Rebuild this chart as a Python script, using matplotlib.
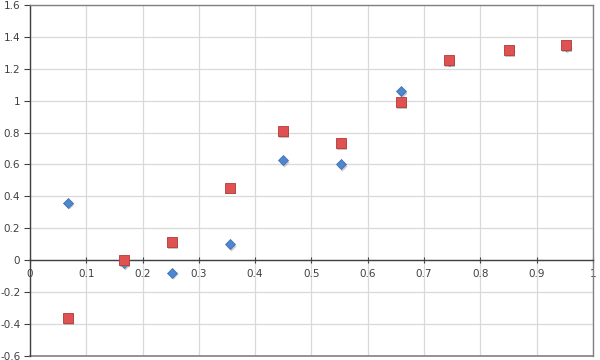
import numpy as np
import matplotlib.pyplot as plt

# values
x_vals = [0.067, 0.167, 0.252, 0.355, 0.449, 0.552, 0.659, 0.744, 0.851, 0.952]
blue_y = [0.36, -0.02, -0.08, 0.10, 0.625, 0.60, 1.06, 1.25, 1.32, 1.34]
red_y = [-0.365, 0.0, 0.115, 0.455, 0.81, 0.735, 0.99, 1.255, 1.32, 1.35]

x_ticks = [0, 0.1, 0.2, 0.3, 0.4, 0.5, 0.6, 0.7, 0.8, 0.9, 1]
x_labels = ["0", "0.1", "0.2", "0.3", "0.4", "0.5", "0.6", "0.7", "0.8", "0.9", "1"]
y_ticks = [-0.6, -0.4, -0.2, 0, 0.2, 0.4, 0.6, 0.8, 1, 1.2, 1.4, 1.6]
y_labels = ["-0.6", "-0.4", "-0.2", "0", "0.2", "0.4", "0.6", "0.8", "1", "1.2", "1.4", "1.6"]

fig = plt.figure(figsize=(6, 3.6), dpi=100)
ax = fig.add_axes([0.05, 0.012, 0.938, 0.974])

ax.set_xlim(0, 1)
ax.set_ylim(-0.6, 1.6)
ax.grid(True, color="#d9d9d9", linewidth=0.9)
ax.set_axisbelow(True)

# shadow then markers
ax.scatter(np.array(x_vals) + 0.002, np.array(blue_y) - 0.01, marker="D", s=26,
           color="#9a9a9a", alpha=0.5, linewidths=0, zorder=3)
ax.scatter(x_vals, blue_y, marker="D", s=26, color="#4f86d0",
           edgecolors="#3a6cb0", linewidths=0.5, zorder=4)
ax.scatter(np.array(x_vals) + 0.002, np.array(red_y) - 0.012, marker="s", s=62,
           color="#8a8a8a", alpha=0.5, linewidths=0, zorder=5)
ax.scatter(x_vals, red_y, marker="s", s=60, color="#e05252",
           edgecolors="#b03a3a", linewidths=0.6, zorder=6)

ax.spines["bottom"].set_position(("data", 0))
ax.spines["bottom"].set_color("#404040")
ax.spines["left"].set_color("#404040")
ax.spines["top"].set_color("#808080")
ax.spines["right"].set_color("#808080")
for s in ax.spines.values():
    s.set_linewidth(1.0)
ax.axhline(-0.6, color="#808080", linewidth=1.2, clip_on=False, zorder=1)

ax.set_xticks(x_ticks)
ax.set_xticklabels(x_labels)
ax.set_yticks(y_ticks)
ax.set_yticklabels(y_labels)
ax.tick_params(axis="x", direction="inout", length=5, width=0.8, color="#404040",
               labelsize=7.5, labelcolor="#404040", pad=4)
ax.tick_params(axis="y", direction="out", length=4, width=0.8, color="#404040",
               labelsize=7.5, labelcolor="#404040", pad=3)

fig.savefig("out.png", dpi=100)
